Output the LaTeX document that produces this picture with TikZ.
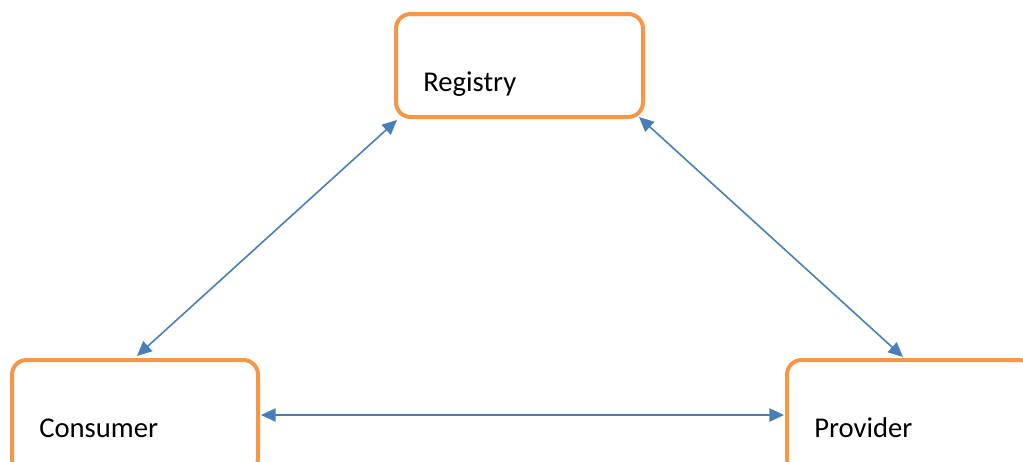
\documentclass[tikz,border=0pt]{standalone}
\usepackage{fontspec}
\setmainfont{Carlito}
\usetikzlibrary{calc,arrows.meta}
\definecolor{boxorange}{HTML}{F79646}
\definecolor{arrblue}{HTML}{4A7EBB}
\tikzset{
  pbox/.style={draw=boxorange, line width=3pt, rounded corners=11pt, fill=white, inner sep=0pt},
  lbl/.style={anchor=base west, inner sep=0pt, font=\fontsize{21.5pt}{25pt}\selectfont},
  arr/.style={draw=arrblue, line width=1.2pt, {Triangle[length=11pt,width=10pt]}-{Triangle[length=11pt,width=10pt]}}
}
\begin{document}
\begin{tikzpicture}[x=0.75pt,y=-0.75pt]
\useasboundingbox (0,0) rectangle (1023,461);
\node[pbox, minimum width=247*0.75pt, minimum height=103*0.75pt] (reg) at (519.5,65.5) {};
\node[pbox, minimum width=246*0.75pt, minimum height=113*0.75pt] (con) at (135,416.5) {};
\node[pbox, minimum width=247*0.75pt, minimum height=113*0.75pt] (pro) at (910.5,416.5) {};
\node[lbl] (regt) at (423,91) {Registry};
\node[lbl] (cont) at (39,437) {Consumer};
\node[lbl] (prot) at (814,437) {Provider};
\draw[arr] ($(con.north)+(2,-2)$) -- ($(reg.south west)+(3,1)$);
\draw[arr] ($(reg.south east)+(-6,-2)$) -- ($(pro.north)+(-7.5,-1)$);
\draw[arr] ($(con.east)+(1,-1.5)$) -- ($(pro.west)+(-1,-1.5)$);
\end{tikzpicture}
\end{document}
